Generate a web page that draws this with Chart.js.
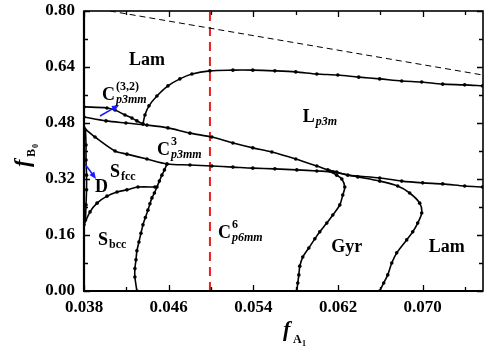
<!DOCTYPE html>
<html>
<head>
<meta charset="utf-8">
<script src="https://cdn.jsdelivr.net/npm/chart.js@4.4.0/dist/chart.umd.min.js"></script>
<style>
  body { margin: 0; background: #fff; }
  #wrap { width: 484px; height: 348px; position: relative; }
</style>
</head>
<body>
<div id="wrap"><canvas id="myChart"></canvas></div>
<script>
const xMin = 0.038;
const xMax = 0.0757;
const yMin = 0;
const yMax = 0.8;
const xTicks = [0.038, 0.046, 0.054, 0.062, 0.070];
const yTicks = [0.00, 0.16, 0.32, 0.48, 0.64, 0.80];

// Lam / Lp3m boundary
const topX = [0.04357, 0.04376, 0.04414, 0.04489, 0.04593, 0.04706, 0.04820, 0.04989, 0.05207, 0.05395, 0.05603, 0.05801, 0.06000, 0.06198, 0.06396, 0.06594, 0.06802, 0.06991, 0.07189, 0.07397, 0.07566];
const topY = [0.477, 0.503, 0.529, 0.557, 0.586, 0.606, 0.620, 0.629, 0.631, 0.631, 0.629, 0.626, 0.620, 0.617, 0.611, 0.606, 0.600, 0.597, 0.591, 0.589, 0.586];

// C(3,2) upper boundary
const c32X = [0.0380, 0.04017, 0.04093, 0.04187, 0.04253, 0.04300, 0.04357];
const c32Y = [0.526, 0.523, 0.517, 0.503, 0.494, 0.486, 0.477];

// long descending line
const descX = [0.0380, 0.04008, 0.04196, 0.04395, 0.04593, 0.04801, 0.05008, 0.05207, 0.05395, 0.05575, 0.05801, 0.06000, 0.06103, 0.06188, 0.06292, 0.06594, 0.06802, 0.07000, 0.07189, 0.07397, 0.07566];
const descY = [0.497, 0.486, 0.480, 0.474, 0.466, 0.451, 0.440, 0.423, 0.409, 0.397, 0.377, 0.357, 0.346, 0.340, 0.331, 0.323, 0.314, 0.309, 0.306, 0.300, 0.297];

// Sfcc / C3 / C6 boundary continuing into Gyr / Lam
const flatX = [0.0380, 0.03904, 0.04093, 0.04206, 0.04395, 0.04584, 0.04801, 0.05008, 0.05207, 0.05395, 0.05603, 0.05811, 0.06000, 0.06151, 0.06387, 0.06594, 0.06764, 0.06877, 0.06972, 0.06991, 0.06953, 0.06906, 0.06849, 0.06755, 0.06708, 0.06670, 0.06632, 0.06594];
const flatY = [0.466, 0.440, 0.400, 0.391, 0.377, 0.363, 0.360, 0.357, 0.354, 0.351, 0.349, 0.346, 0.343, 0.340, 0.326, 0.314, 0.300, 0.280, 0.251, 0.223, 0.194, 0.169, 0.146, 0.109, 0.080, 0.046, 0.023, 0.000];

// C6 / Gyr boundary
const gyrX = [0.06122, 0.06188, 0.06236, 0.06264, 0.06245, 0.06217, 0.06151, 0.06094, 0.06028, 0.05981, 0.05924, 0.05867, 0.05839, 0.05830, 0.05820, 0.05811];
const gyrY = [0.343, 0.331, 0.320, 0.297, 0.274, 0.246, 0.217, 0.194, 0.169, 0.149, 0.123, 0.097, 0.071, 0.046, 0.023, 0.000];

// Sfcc,Sbcc / C6 boundary
const sphX = [0.04584, 0.04560, 0.04536, 0.04512, 0.04489, 0.04465, 0.04442, 0.04423, 0.04404, 0.04380, 0.04357, 0.04338, 0.04319, 0.04300, 0.04291, 0.04281, 0.04281, 0.04300];
const sphY = [0.363, 0.346, 0.331, 0.314, 0.297, 0.280, 0.266, 0.249, 0.231, 0.210, 0.189, 0.165, 0.140, 0.115, 0.089, 0.064, 0.040, 0.000];

// Sfcc / Sbcc boundary
const bccX = [0.0380, 0.03857, 0.03923, 0.04017, 0.04112, 0.04206, 0.04310, 0.04470];
const bccY = [0.189, 0.226, 0.251, 0.271, 0.283, 0.289, 0.297, 0.297];

// D boundary along the left edge
const dX = [0.03814, 0.03819, 0.03819, 0.03824, 0.03824, 0.03819, 0.03814];
const dY = [0.460, 0.417, 0.374, 0.331, 0.289, 0.246, 0.203];

// dashed line and red line
const dashX = [0.04045, 0.0757];
const dashY = [0.800, 0.617];
const redX = [0.0499, 0.0499];
const redY = [0.0, 0.8];

// blue arrows [x0, y0, x1, y1]
const arrows = [
    [0.03951, 0.500, 0.04130, 0.531],
    [0.03809, 0.363, 0.03913, 0.320]
];

// phase labels: x, y, main, sup, sub, italic sub, centered
const phaseLabels = [
    [0.04395, 0.646, 'Lam', '', '', false, true],
    [0.03970, 0.546, 'C', '(3,2)', 'p3mm', true, false],
    [0.04489, 0.389, 'C', '3', 'p3mm', true, false],
    [0.05867, 0.483, 'L', '', 'p3m', true, false],
    [0.04045, 0.326, 'S', '', 'fcc', false, false],
    [0.03904, 0.283, 'D', '', '', false, false],
    [0.03932, 0.131, 'S', '', 'bcc', false, false],
    [0.05065, 0.151, 'C', '6', 'p6mm', true, false],
    [0.06283, 0.111, 'Gyr', '', '', false, true],
    [0.07227, 0.111, 'Lam', '', '', false, true]
];

function pts(xs, ys) {
    return xs.map((x, i) => ({ x: x, y: ys[i] }));
}

function curve(xs, ys) {
    return {
        data: pts(xs, ys),
        showLine: true,
        borderColor: '#000',
        backgroundColor: '#000',
        borderWidth: 1.6,
        pointRadius: 1.8,
        pointBorderWidth: 0,
        tension: 0.3
    };
}

const serif = 'Liberation Serif';

const framePlugin = {
    id: 'framePlugin',
    afterDraw(chart) {
        const ctx = chart.ctx;
        const a = chart.chartArea;
        const sx = chart.scales.x;
        const sy = chart.scales.y;
        ctx.save();

        // arrows
        ctx.strokeStyle = '#1a1aff';
        ctx.fillStyle = '#1a1aff';
        ctx.lineWidth = 1.5;
        arrows.forEach(ar => {
            const x0 = sx.getPixelForValue(ar[0]), y0 = sy.getPixelForValue(ar[1]);
            const x1 = sx.getPixelForValue(ar[2]), y1 = sy.getPixelForValue(ar[3]);
            const ang = Math.atan2(y1 - y0, x1 - x0);
            ctx.beginPath();
            ctx.moveTo(x0, y0);
            ctx.lineTo(x1 - 4 * Math.cos(ang), y1 - 4 * Math.sin(ang));
            ctx.stroke();
            ctx.beginPath();
            ctx.moveTo(x1, y1);
            ctx.lineTo(x1 - 7 * Math.cos(ang) + 3 * Math.sin(ang), y1 - 7 * Math.sin(ang) - 3 * Math.cos(ang));
            ctx.lineTo(x1 - 7 * Math.cos(ang) - 3 * Math.sin(ang), y1 - 7 * Math.sin(ang) + 3 * Math.cos(ang));
            ctx.closePath();
            ctx.fill();
        });

        // frame
        ctx.strokeStyle = '#000';
        ctx.lineWidth = 1.6;
        ctx.strokeRect(a.left, a.top, a.right - a.left, a.bottom - a.top);
        ctx.lineWidth = 2.2;
        ctx.beginPath();
        ctx.moveTo(a.left - 1, a.bottom); ctx.lineTo(a.right, a.bottom);
        ctx.moveTo(a.left, a.top); ctx.lineTo(a.left, a.bottom);
        ctx.stroke();

        // inward ticks on all sides
        ctx.lineWidth = 1.3;
        for (let v = xMin; v <= xMax + 1e-9; v += 0.004) {
            const px = Math.round(sx.getPixelForValue(v)) + 0.5;
            const major = Math.abs(((v - xMin) / 0.008) - Math.round((v - xMin) / 0.008)) < 0.01;
            const len = major ? 6 : 4;
            ctx.beginPath();
            ctx.moveTo(px, a.bottom); ctx.lineTo(px, a.bottom - len);
            ctx.moveTo(px, a.top); ctx.lineTo(px, a.top + len);
            ctx.stroke();
        }
        for (let k = 0; k <= 10; k++) {
            const v = k * 0.08;
            const py = Math.round(sy.getPixelForValue(v)) + 0.5;
            const len = k % 2 === 0 ? 6 : 4;
            ctx.beginPath();
            ctx.moveTo(a.left, py); ctx.lineTo(a.left + len, py);
            ctx.moveTo(a.right, py); ctx.lineTo(a.right - len, py);
            ctx.stroke();
        }

        // phase labels
        ctx.fillStyle = '#000';
        ctx.textBaseline = 'alphabetic';
        phaseLabels.forEach(l => {
            let px = sx.getPixelForValue(l[0]);
            const py = sy.getPixelForValue(l[1]);
            ctx.font = 'bold 18px "' + serif + '"';
            const w = ctx.measureText(l[2]).width;
            if (l[6]) px -= w / 2;
            ctx.textAlign = 'left';
            ctx.fillText(l[2], px, py);
            if (l[3]) {
                ctx.font = 'bold 12px "' + serif + '"';
                ctx.fillText(l[3], px + w + 1, py - 10);
            }
            if (l[4]) {
                ctx.font = (l[5] ? 'italic ' : '') + 'bold 12px "' + serif + '"';
                ctx.fillText(l[4], px + w + 1, py + 3);
            }
        });

        // axis titles
        ctx.font = 'italic bold 22px "' + serif + '"';
        ctx.fillText('f', 283, 336);
        ctx.font = 'bold 12px "' + serif + '"';
        ctx.fillText('A', 293, 343);
        ctx.font = 'bold 8px "' + serif + '"';
        ctx.fillText('1', 302, 346);

        ctx.translate(29, 167);
        ctx.rotate(-Math.PI / 2);
        ctx.font = 'italic bold 22px "' + serif + '"';
        ctx.fillText('f', 0, 0);
        ctx.font = 'bold 12px "' + serif + '"';
        ctx.fillText('B', 10, 6);
        ctx.font = 'bold 8px "' + serif + '"';
        ctx.fillText('0', 19, 9);
        ctx.restore();
    }
};

const datasets = [
    curve(topX, topY),
    curve(c32X, c32Y),
    curve(descX, descY),
    curve(flatX, flatY),
    curve(gyrX, gyrY),
    curve(sphX, sphY),
    curve(bccX, bccY),
    curve(dX, dY),
    {
        data: pts(dashX, dashY),
        showLine: true,
        borderColor: '#000',
        borderWidth: 1,
        borderDash: [6, 4],
        pointRadius: 0
    },
    {
        data: pts(redX, redY),
        showLine: true,
        borderColor: '#e8201c',
        borderWidth: 2,
        borderDash: [9, 6],
        pointRadius: 0
    }
];

const config = {
    type: 'scatter',
    data: { datasets: datasets },
    options: {
        responsive: true,
        maintainAspectRatio: false,
        animation: false,
        layout: { autoPadding: false, padding: { top: 11, right: 1, left: 0, bottom: 0 } },
        plugins: { legend: { display: false }, tooltip: { enabled: false } },
        scales: {
            x: {
                type: 'linear',
                min: xMin,
                max: xMax,
                grid: { display: false, drawTicks: false },
                border: { display: false },
                afterBuildTicks: s => { s.ticks = xTicks.map(v => ({ value: v })); },
                afterFit: s => {
                    s.height = 57;
                    s.paddingLeft = 0;
                    s.paddingRight = 0;
                },
                ticks: {
                    color: '#000',
                    padding: 6,
                    maxRotation: 0,
                    font: { family: serif, size: 17, weight: 'bold' },
                    callback: v => v.toFixed(3)
                }
            },
            y: {
                type: 'linear',
                min: yMin,
                max: yMax,
                grid: { display: false, drawTicks: false },
                border: { display: false },
                afterBuildTicks: s => { s.ticks = yTicks.map(v => ({ value: v })); },
                afterFit: s => {
                    s.width = 84;
                    s.paddingTop = 0;
                    s.paddingBottom = 0;
                },
                ticks: {
                    color: '#000',
                    padding: 9,
                    font: { family: serif, size: 17, weight: 'bold' },
                    callback: v => v.toFixed(2)
                }
            }
        }
    },
    plugins: [framePlugin]
};

new Chart(document.getElementById('myChart'), config);
</script>
</body>
</html>
